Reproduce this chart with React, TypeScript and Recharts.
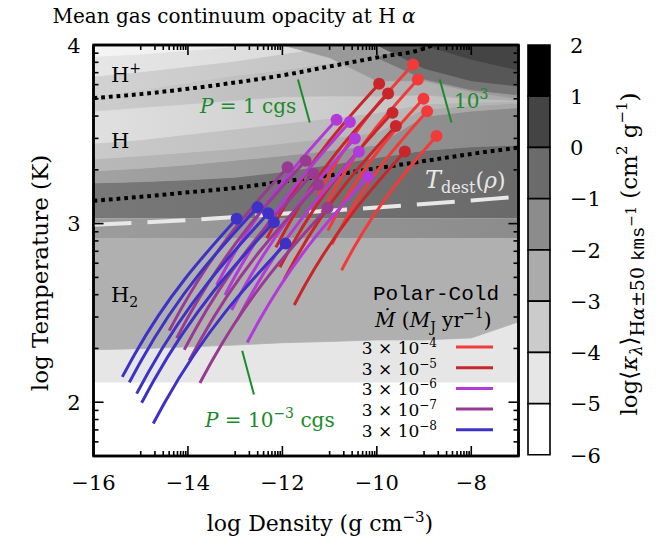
import React from "react";
import {
  ComposedChart,
  Area,
  Bar,
  Cell,
  Line,
  Scatter,
  XAxis,
  YAxis,
  ReferenceLine,
  ReferenceArea,
} from "recharts";

const W = 666;
const H = 549;
const serif = '"DejaVu Serif", serif';
const mono = '"Liberation Mono", monospace';

// x axis: log density, y axis: log temperature (tick temperatures in K)
const densityMajor = [-16, -14, -12, -10, -8];
const densityMinorSteps = [1, 2, 3, 4, 5, 6, 7, 8, 9];
const temperatureTicks = [60, 70, 80, 90, 100, 200, 300, 400, 500, 600, 700, 800, 900, 1000, 2000, 3000, 4000, 5000, 6000, 7000, 8000, 9000, 10000];
const temperatureRange = [50, 10000];

// opacity map, read as grey bands between edges (log T) on this density grid
const mapDensity = [-16, -15, -14, -13, -12, -11, -10, -9, -8, -7];
const edge0 = [1.699, 1.699, 1.699, 1.699, 1.699, 1.699, 1.699, 1.699, 1.699, 1.699];
const edge1 = [2.111, 2.111, 2.111, 2.111, 2.111, 2.111, 2.111, 2.111, 2.111, 2.111];
const edge2 = [2.294, 2.3, 2.31, 2.32, 2.333, 2.34, 2.349, 2.349, 2.36, 2.45];
const edge3 = [2.92, 2.92, 2.92, 2.92, 2.92, 2.92, 2.92, 2.92, 2.92, 2.92];
const edge4 = [3.03, 3.03, 3.03, 3.03, 3.03, 3.03, 3.03, 3.03, 3.03, 3.03];
const edge5 = [3.228, 3.235, 3.245, 3.26, 3.29, 3.33, 3.37, 3.41, 3.43, 3.44];
const edge6 = [3.295, 3.31, 3.33, 3.355, 3.38, 3.41, 3.44, 3.6, 3.63, 3.65];
const edge7 = [3.362, 3.38, 3.4, 3.42, 3.45, 3.48, 3.51, 3.64, 3.66, 3.675];
const edge8 = [3.45, 3.47, 3.5, 3.53, 3.56, 3.59, 3.62, 3.67, 3.68, 3.685];
const edge9 = [3.63, 3.65, 3.67, 3.69, 3.71, 3.715, 3.714, 3.72, 3.7, 3.69];
const edge10 = [3.714, 3.75, 3.79, 3.83, 3.86, 3.9, 3.93, 3.99, 4, 4];
const edge11 = [3.825, 3.85, 3.88, 3.91, 3.95, 3.99, 4, 4, 4, 4];
const edge12 = [3.936, 3.95, 3.97, 3.99, 4, 4, 4, 4, 4, 4];
const edge13 = [4, 4, 4, 4, 4, 4, 4, 4, 4, 4];
const mapEdges = [edge0, edge1, edge2, edge3, edge4, edge5, edge6, edge7, edge8, edge9, edge10, edge11, edge12, edge13];
const bandShades = [
  ["#ffffff", "#ffffff"],
  ["#e6e6e6", "#e6e6e6"],
  ["#b0b0b0", "#b0b0b0"],
  ["#9c9c9c", "#8c8c8c"],
  ["#787878", "#6a6a6a"],
  ["#a2a2a2", "#8a8a8a"],
  ["#b8b8b8", "#a6a6a6"],
  ["#cacaca", "#b2b2b2"],
  ["#e0e0e0", "#bcbcbc"],
  ["#cdcdcd", "#a8a8a8"],
  ["#d2d2d2", "#b8b8b8"],
  ["#e6e6e6", "#d0d0d0"],
  ["#f4f4f4", "#e0e0e0"],
];

// darker patches in the upper right of the map
const n = null;
const patchLo = [
  [n, n, n, n, 4, 3.93, 3.8, 3.8, 3.74, 3.7],
  [n, n, n, n, n, n, 3.93, 3.81, 3.75, 3.72],
  [n, n, n, n, n, n, 4, 3.87, 3.8, 3.77],
  [n, n, n, n, n, n, n, 4, 3.92, 3.86],
];
const patchHi = [
  [n, n, n, n, 4, 4, 4, 4, 4, 4],
  [n, n, n, n, n, n, 3.93, 4, 4, 4],
  [n, n, n, n, n, n, 4, 4, 4, 4],
  [n, n, n, n, n, n, n, 4, 4, 4],
];
const patchShades = ["#9a9a9a", "#777777", "#575757", "#444444"];

// H+/H and H/H2 boundaries, dust destruction temperature
const ionisationLine = [[-16, 3.703], [-15, 3.725], [-14, 3.755], [-13, 3.79], [-12, 3.83], [-11, 3.88], [-10, 3.93], [-9, 3.98], [-8.8, 4]];
const dissociationLine = [[-16, 3.128], [-15, 3.15], [-14, 3.175], [-13, 3.2], [-12, 3.235], [-11, 3.27], [-10, 3.31], [-9, 3.35], [-8, 3.39], [-7, 3.426]];
const dustLine = [[-16, 2.993], [-14, 3.02], [-12, 3.055], [-10, 3.09], [-8, 3.13], [-7, 3.15]];

// isobar markers (P = 1, 10^3, 10^-3 cgs)
const isobarMarks = [
  [[-11.67, 3.807], [-11.42, 3.566]],
  [[-8.667, 3.807], [-8.419, 3.566]],
  [[-12.851, 2.288], [-12.603, 2.043]],
];

// Polar-Cold tracks, one list per accretion rate, last point = dot
const track3e4 = [
  [[-11.249, 3.157], [-10.995, 3.28], [-9.232, 3.891]],
  [[-11.164, 3.062], [-10.91, 3.185], [-9.132, 3.807]],
  [[-11.037, 2.962], [-10.783, 3.085], [-9.012, 3.699]],
  [[-10.953, 2.884], [-10.699, 3.007], [-8.935, 3.629]],
  [[-10.747, 2.739], [-10.493, 2.862], [-8.737, 3.491]],
];
const track3e5 = [
  [[-12.328, 2.918], [-12.074, 3.041], [-9.951, 3.783]],
  [[-12.138, 2.867], [-11.884, 2.99], [-9.761, 3.729]],
  [[-12.053, 2.756], [-11.799, 2.879], [-9.668, 3.621]],
  [[-11.968, 2.684], [-11.714, 2.807], [-9.598, 3.547]],
  [[-11.75, 2.544], [-11.496, 2.667], [-9.407, 3.404]],
];
const track3e6 = [
  [[-13.393, 2.656], [-13.139, 2.779], [-10.853, 3.581]],
  [[-13.217, 2.6], [-12.963, 2.723], [-10.571, 3.569]],
  [[-13.075, 2.516], [-12.821, 2.639], [-10.466, 3.476]],
  [[-12.957, 2.461], [-12.703, 2.584], [-10.381, 3.402]],
  [[-12.745, 2.334], [-12.491, 2.457], [-10.19, 3.263]],
];
const track3e7 = [
  [[-14.396, 2.401], [-14.142, 2.524], [-11.89, 3.315]],
  [[-14.239, 2.359], [-13.985, 2.482], [-11.509, 3.352]],
  [[-14.078, 2.294], [-13.824, 2.417], [-11.348, 3.281]],
  [[-13.972, 2.234], [-13.718, 2.357], [-11.242, 3.218]],
  [[-13.746, 2.108], [-13.492, 2.231], [-11.043, 3.089]],
];
const track3e8 = [
  [[-15.39, 2.142], [-15.136, 2.265], [-12.969, 3.027]],
  [[-15.242, 2.111], [-14.988, 2.234], [-12.525, 3.092]],
  [[-15.086, 2.048], [-14.832, 2.171], [-12.3, 3.058]],
  [[-14.98, 1.997], [-14.726, 2.12], [-12.18, 3.008]],
  [[-14.734, 1.881], [-14.48, 2.004], [-11.932, 2.888]],
];
const trackGroups = [track3e4, track3e5, track3e6, track3e7, track3e8];
const mdotExponents = ["−4", "−5", "−6", "−7", "−8"];
const mdotColors = ["#f23a3a", "#c8262a", "#b23ad8", "#983a92", "#3e32c6"];

// colour bar levels (log kappa) and greys
const kappaLevels = [-6, -5, -4, -3, -2, -1, 0, 1];
const kappaShades = ["#ffffff", "#e6e6e6", "#cbcbcb", "#ababab", "#8c8c8c", "#6b6b6b", "#444444", "#000000"];
const kappaTicks = [-6, -5, -4, -3, -2, -1, 0, 1, 2];

const minus = (v: number) => (v < 0 ? `−${Math.abs(v)}` : `${v}`);
const toPts = (pts: number[][]) => pts.map(([x, y]) => ({ x, y }));
const isWhole = (v: number) => Math.abs(v - Math.round(v)) < 1e-9;

const densityTicks = densityMajor.flatMap((m) =>
  m < -8 ? [m, ...densityMinorSteps.map((k) => m + 1 + Math.log10(k))] : [m]
);
const logTempTicks = temperatureTicks.map((t) => Math.log10(t));

const mapRows = mapDensity.map((x, i) => {
  const row: any = { x };
  for (let b = 0; b < mapEdges.length - 1; b++) row[`b${b}`] = [mapEdges[b][i], mapEdges[b + 1][i]];
  patchLo.forEach((lo, p) => {
    row[`p${p}`] = lo[i] == null ? null : [lo[i], patchHi[p][i]];
  });
  return row;
});

const colorbarRows = kappaLevels
  .map((level, i) => ({ level, span: 1, shade: kappaShades[i] }))
  .reverse();

const DensityTick = (props: any) => {
  const { x, y, payload, side } = props;
  const v = payload.value;
  const major = densityMajor.some((m) => Math.abs(m - v) < 1e-9);
  const len = major ? 10 : 5;
  const y2 = side === "top" ? y + len : y - len;
  return (
    <g>
      <line x1={x} x2={x} y1={y} y2={y2} stroke="#000" strokeWidth={1.6} />
      {side !== "top" && major && (
        <text x={x} y={y + 34} textAnchor="middle" fontFamily={serif} fontSize={21} fill="#000">
          {minus(v)}
        </text>
      )}
    </g>
  );
};

const TempTick = (props: any) => {
  const { x, y, payload, side } = props;
  const v = payload.value;
  const major = isWhole(v);
  const len = major ? 10 : 5;
  const x2 = side === "right" ? x - len : x + len;
  return (
    <g>
      <line x1={x} x2={x2} y1={y} y2={y} stroke="#000" strokeWidth={1.6} />
      {side !== "right" && major && (
        <text x={x - 13} y={y} dy="0.36em" textAnchor="end" fontFamily={serif} fontSize={21} fill="#000">
          {Math.round(v)}
        </text>
      )}
    </g>
  );
};

const KappaTick = (props: any) => {
  const { x, y, payload } = props;
  return (
    <text x={x + 20} y={y} dy="0.36em" textAnchor="start" fontFamily={serif} fontSize={21} fill="#000">
      {minus(payload.value)}
    </text>
  );
};

const dotShape = (color: string) => (p: any) => <circle cx={p.cx} cy={p.cy} r={6} fill={color} />;

const frameLine = { stroke: "#000", strokeWidth: 2.5 };
const layer = { position: "absolute" as const, left: 0, top: 0 };

export default function App() {
  const yDomain = [Math.log10(temperatureRange[0]), Math.log10(temperatureRange[1])];
  return (
    <div style={{ position: "absolute", left: 0, top: 0, width: W, height: H, background: "#fff" }}>
      <div style={layer}>
        <ComposedChart width={W} height={H} data={mapRows} margin={{ top: 35, right: 137.5, bottom: 53, left: 33.5 }}>
          <defs>
            {bandShades.map(([a, b], i) => (
              <linearGradient key={i} id={`shade${i}`} x1="0" y1="0" x2="1" y2="0">
                <stop offset="0%" stopColor={a} />
                <stop offset="100%" stopColor={b} />
              </linearGradient>
            ))}
          </defs>
          <XAxis dataKey="x" type="number" domain={[-16, -7]} ticks={densityTicks} interval={0} height={40}
            tickSize={0} tickMargin={0} axisLine={frameLine} tickLine={false}
            allowDataOverflow tick={(p: any) => <DensityTick {...p} side="bottom" />} />
          <XAxis xAxisId="top" orientation="top" dataKey="x" type="number" domain={[-16, -7]} ticks={densityTicks}
            interval={0} height={10} tickSize={0} tickMargin={0} axisLine={frameLine}
            tickLine={false} allowDataOverflow tick={(p: any) => <DensityTick {...p} side="top" />} />
          <YAxis type="number" domain={yDomain} ticks={logTempTicks} interval={0} width={60} tickSize={0}
            tickMargin={0} axisLine={frameLine} tickLine={false} allowDataOverflow
            tick={(p: any) => <TempTick {...p} side="left" />} />
          <YAxis yAxisId="right" orientation="right" type="number" domain={yDomain} ticks={logTempTicks}
            interval={0} width={10} tickSize={0} tickMargin={0} axisLine={frameLine}
            tickLine={false} allowDataOverflow tick={(p: any) => <TempTick {...p} side="right" />} />

          {bandShades.map((_, b) => (
            <Area key={`b${b}`} dataKey={`b${b}`} type="linear" stroke={`url(#shade${b})`} strokeWidth={0.8}
              fill={`url(#shade${b})`} fillOpacity={1} dot={false} activeDot={false} isAnimationActive={false} />
          ))}
          {patchShades.map((c, p) => (
            <Area key={`p${p}`} dataKey={`p${p}`} type="linear" stroke={c} strokeWidth={0.8} fill={c}
              fillOpacity={1} dot={false} activeDot={false} isAnimationActive={false} />
          ))}

          <Line data={toPts(ionisationLine)} dataKey="y" type="monotone" stroke="#000" strokeWidth={4}
            strokeDasharray="3.8 3.9" dot={false} activeDot={false} isAnimationActive={false} />
          <Line data={toPts(dissociationLine)} dataKey="y" type="monotone" stroke="#000" strokeWidth={4}
            strokeDasharray="3.8 3.9" dot={false} activeDot={false} isAnimationActive={false} />
          <Line data={toPts(dustLine)} dataKey="y" type="monotone" stroke="#e8e8e8" strokeWidth={4}
            strokeDasharray="38 16" dot={false} activeDot={false} isAnimationActive={false} />

          {isobarMarks.map((seg, i) => (
            <ReferenceLine key={`iso${i}`} segment={seg.map(([x, y]) => ({ x, y }))} stroke="#1b8a2a"
              strokeWidth={2} ifOverflow="visible" />
          ))}

          {trackGroups.map((group, g) => (
            <React.Fragment key={`g${g}`}>
              {group.map((curve, c) => (
                <Line key={`t${g}-${c}`} data={toPts(curve)} dataKey="y" type="monotone" stroke={mdotColors[g]}
                  strokeWidth={3} dot={false} activeDot={false} isAnimationActive={false} />
              ))}
              <Scatter data={group.map((c) => ({ x: c[c.length - 1][0], y: c[c.length - 1][1] }))} dataKey="y"
                fill={mdotColors[g]} shape={dotShape(mdotColors[g])} isAnimationActive={false} />
            </React.Fragment>
          ))}

          <ReferenceArea x1={-16} x2={-7} y1={yDomain[0]} y2={yDomain[1]} fill="none" stroke="#000"
            strokeWidth={2.5} fillOpacity={0} ifOverflow="visible" />
        </ComposedChart>
      </div>

      {/* colour bar */}
      <div style={layer}>
        <ComposedChart layout="vertical" width={W} height={H} data={colorbarRows} barCategoryGap={0} barGap={0}
          margin={{ top: 45, right: 116, bottom: 94, left: 528 }}>
          <XAxis type="number" domain={[0, 1]} hide />
          <YAxis type="category" dataKey="level" hide />
          <Bar dataKey="span" stroke="#000" strokeWidth={1.6} isAnimationActive={false}>
            {colorbarRows.map((r) => (
              <Cell key={r.level} fill={r.shade} />
            ))}
          </Bar>
        </ComposedChart>
      </div>

      {/* colour bar scale */}
      <div style={layer}>
        <ComposedChart width={W} height={H} data={colorbarRows} margin={{ top: 45, right: 56, bottom: 94, left: 528 }}>
          <XAxis type="number" dataKey="span" domain={[0, 1]} hide />
          <YAxis orientation="right" type="number" domain={[-6, 2]} ticks={kappaTicks} interval={0}
            width={60} tickSize={0} tickMargin={0} axisLine={false} tickLine={false} allowDataOverflow
            tick={(p: any) => <KappaTick {...p} />} />
        </ComposedChart>
      </div>

      <svg width={W} height={H} style={{ ...layer, pointerEvents: "none" }} fontFamily={serif}>
        <text x={234} y={23} textAnchor="middle" fontSize={20}>
          Mean gas continuum opacity at H<tspan fontStyle="italic"> α</tspan>
        </text>
        <text transform="translate(48,273) rotate(-90)" textAnchor="middle" fontSize={23}>
          log Temperature (K)
        </text>
        <text x={320} y={531} textAnchor="middle" fontSize={22}>
          log Density (g cm<tspan dy={-9} fontSize={15}>−3</tspan><tspan dy={9}>)</tspan>
        </text>
        <text transform="translate(637,254) rotate(-90)" textAnchor="middle" fontSize={23}>
          log⟨<tspan fontStyle="italic">κ</tspan><tspan fontStyle="italic" fontSize={16} dy={5}>λ</tspan>
          <tspan dy={-5}>⟩</tspan>
          <tspan fontSize={19} dy={7}>H<tspan fontStyle="italic">α</tspan>±50 </tspan>
          <tspan fontSize={19} fontFamily={mono}>kms</tspan>
          <tspan fontSize={14} dy={-8}>−1</tspan>
          <tspan dy={1}> (cm</tspan>
          <tspan fontSize={15} dy={-10}>2</tspan>
          <tspan dy={10}> g</tspan>
          <tspan fontSize={15} dy={-10}>−1</tspan>
          <tspan dy={10}>)</tspan>
        </text>

        <text x={111} y={82} fontSize={21}>H<tspan fontSize={14} dy={-9}>+</tspan></text>
        <text x={111} y={148} fontSize={21}>H</text>
        <text x={111} y={302} fontSize={21}>H<tspan fontSize={14} dy={5}>2</tspan></text>

        <g fill="#1b8a2a" fontSize={20}>
          <text x={200} y={113}><tspan fontStyle="italic">P</tspan> = 1 cgs</text>
          <text x={454} y={108}>10<tspan fontSize={14} dy={-9}>3</tspan></text>
          <text x={205} y={427}><tspan fontStyle="italic">P</tspan> = 10<tspan fontSize={14} dy={-9}>−3</tspan><tspan dy={9}> cgs</tspan></text>
        </g>
        <text x={425} y={188} fill="#e8e8e8" fontSize={24}>
          <tspan fontStyle="italic">T</tspan><tspan fontSize={16} dy={5}>dest</tspan><tspan dy={-5} fontSize={22}>(</tspan><tspan fontStyle="italic" fontSize={22}>ρ</tspan><tspan fontSize={22}>)</tspan>
        </text>

        <text x={373} y={300} fontFamily={mono} fontSize={21}>Polar-Cold</text>
        <text x={375} y={327} fontSize={20}>
          <tspan fontStyle="italic">Ṁ</tspan> (<tspan fontStyle="italic">M</tspan><tspan fontSize={14} dy={5}>J</tspan><tspan dy={-5}> yr</tspan><tspan fontSize={14} dy={-9}>−1</tspan><tspan dy={9}>)</tspan>
        </text>
        {mdotExponents.map((e, i) => (
          <g key={e}>
            <text x={437} y={354 + i * 20.7} textAnchor="end" fontSize={17}>
              3 × 10<tspan dy={-7} fontSize={12}>{e}</tspan>
            </text>
            <line x1={456} x2={493} y1={347 + i * 20.7} y2={347 + i * 20.7} stroke={mdotColors[i]} strokeWidth={3} />
          </g>
        ))}
      </svg>
    </div>
  );
}
